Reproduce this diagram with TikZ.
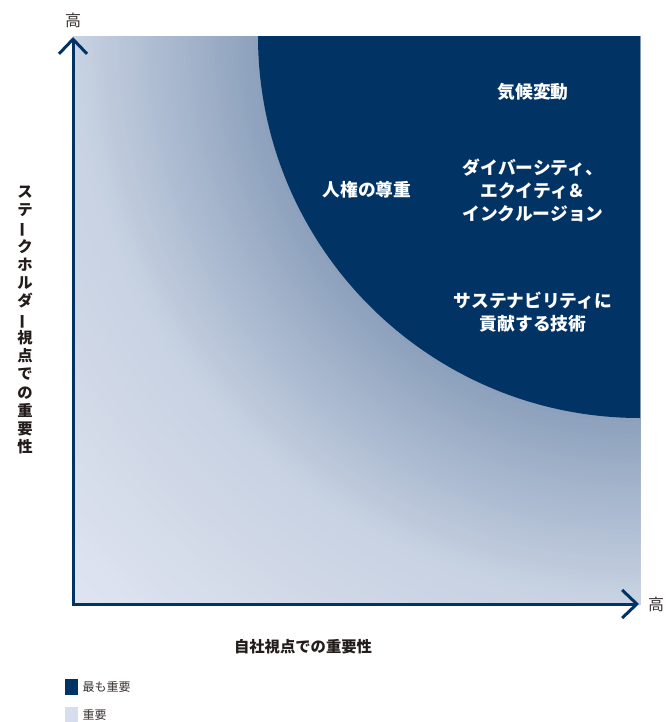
\documentclass[tikz,border=0pt]{standalone}
\usepackage{fontspec}
\setmainfont{Noto Sans CJK JP}
\usepackage{graphicx}
\usetikzlibrary{positioning,arrows.meta}
\definecolor{navy}{RGB}{2,51,101}
\definecolor{fadeA}{RGB}{140,160,188}
\definecolor{fadeB}{RGB}{200,210,226}
\definecolor{fadeC}{RGB}{224,229,241}
\definecolor{keylight}{RGB}{214,221,236}
\definecolor{ink}{RGB}{35,28,26}

\begin{document}
\begin{tikzpicture}[x=0.75pt,y=-0.75pt,
	axis/.style={draw=navy,line width=2.25pt,
		{Straight Barb[length=11pt,width=21pt]}-{Straight Barb[length=11pt,width=21pt]}},
	topic/.style={text=white,align=center,font=\fontsize{13.3}{17.25}\selectfont\bfseries},
	axistitle/.style={text=ink,align=center,font=\fontsize{11.5}{13.7}\selectfont\bfseries},
	high/.style={text=ink!90,font=\fontsize{12}{13}\selectfont},
	keybox/.style={minimum width=9.75pt,minimum height=12pt,inner sep=0pt},
	keytext/.style={text=ink!90,font=\fontsize{9}{11}\selectfont,inner sep=0pt}]
	\useasboundingbox (0,0) rectangle (670,722);
	%Background
	\begin{scope}
		\clip (73,36) rectangle (640,604);
		\foreach \r in {810,806,...,386}{
			\pgfmathsetmacro\pa{min(100,max(0,(810-\r)/2.43))}
			\pgfmathsetmacro\pb{min(100,max(0,(567-\r)/1.85))}
			\fill[fadeA!\pb!fadeB!\pa!fadeC] (640,36) circle (\r);
		}
		\fill[navy] (640,36) circle (382);
	\end{scope}
	%Axes
	\coordinate (O) at (73,604);
	\coordinate (ytip) at (73,37);
	\coordinate (xtip) at (639,604);
	\draw[axis] (ytip) -- (O) -- (xtip);
	\node[high] (hiY) at (73,20) {高};
	\node[high] (hiX) at (656,604) {高};
	\node[axistitle] (xlab) at (303,647) {自社視点での重要性};
	\node[axistitle] (ylab) at (25,320) {ス\\テ\\\rotatebox[origin=c]{90}{ー}\\ク\\ホ\\ル\\ダ\\\rotatebox[origin=c]{90}{ー}\\視\\点\\で\\の\\重\\要\\性};
	%Topics
	\node[topic] (climate) at (533,92) {気候変動};
	\node[topic] (rights) at (367,190) {人権の尊重};
	\node[topic] (dei) at (533,190) {ダイバーシティ、\\エクイティ＆\\インクルージョン};
	\node[topic] (tech) at (533,312) {サステナビリティに\\貢献する技術};
	%Legend
	\node[keybox,fill=navy] (k1) at (71.5,687) {};
	\node[keytext,right=3pt of k1] (t1) {最も重要};
	\node[keybox,fill=keylight] (k2) at (71.5,715) {};
	\node[keytext,right=3pt of k2] (t2) {重要};
\end{tikzpicture}
\end{document}
